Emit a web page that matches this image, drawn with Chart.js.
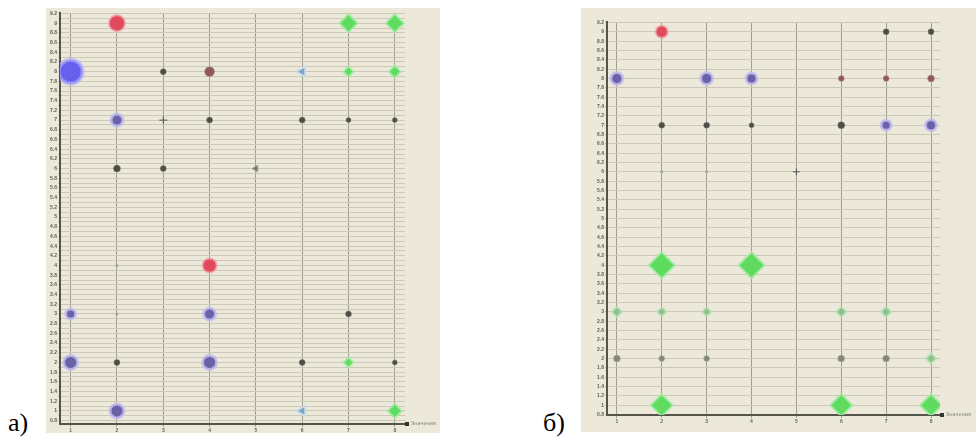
<!DOCTYPE html>
<html>
<head>
<meta charset="utf-8">
<script src="https://cdn.jsdelivr.net/npm/chart.js@4"></script>
<style>
body { margin: 0; background: #fff; width: 976px; height: 439px; position: relative; overflow: hidden; }
.panel { position: absolute; }
.tag { position: absolute; font-family: 'Liberation Serif', serif; font-size: 26px; color: #000; line-height: 1; }
</style>
</head>
<body>
<div class="panel" style="left:46px;top:8px"><canvas id="chartA" width="394" height="425"></canvas></div>
<div class="panel" style="left:581px;top:8px"><canvas id="chartB" width="395" height="424"></canvas></div>
<div class="tag" style="left:8px;top:410px">a)</div>
<div class="tag" style="left:543px;top:410px">б)</div>
<script>
// column labels (both charts)
const xLabels = ['1', '2', '3', '4', '5', '6', '7', '8'];
const axisNote = 'Значения';

// --- chart a) ---
const aPurpleX = [2, 1, 4, 1, 4, 2];
const aPurpleY = [7, 3, 3, 2, 2, 1];
const aPurpleR = [6, 5, 6, 7, 7, 7];

const aBlueX = [1];
const aBlueY = [8];
const aBlueR = [12];

const aDotX = [3, 4, 6, 7, 8, 2, 3, 7, 2, 6, 8];
const aDotY = [8, 7, 7, 7, 7, 6, 6, 3, 2, 2, 2];
const aDotR = [3, 3, 3, 2.5, 2.5, 3.5, 3, 3, 3, 3, 2.5];

const aFaintX = [2, 2];
const aFaintY = [4, 3];
const aFaintR = [1.5, 1.5];

const aRedX = [2, 4];
const aRedY = [9, 4];
const aRedR = [8, 7];

const aBrownX = [4];
const aBrownY = [8];
const aBrownR = [5];

const aGreenX = [7, 8, 7, 8, 7, 8];
const aGreenY = [9, 9, 8, 8, 2, 1];
const aGreenR = [9, 9, 5, 6, 5, 7];

const aTriX = [6, 6];
const aTriY = [8, 1];
const aTriR = [6, 6];

const aGrayTriX = [5];
const aGrayTriY = [6];
const aGrayTriR = [4];

const aCrossX = [3];
const aCrossY = [7];
const aCrossR = [4];

// --- chart б) ---
const bRedX = [2];
const bRedY = [9];
const bRedR = [6];

const bDotX = [7, 8, 2, 3, 4, 6];
const bDotY = [9, 9, 7, 7, 7, 7];
const bDotR = [3, 3, 3, 3, 2.5, 3.5];

const bBrownX = [6, 7, 8];
const bBrownY = [8, 8, 8];
const bBrownR = [3, 3, 3.5];

const bPurpleX = [1, 3, 4, 7, 8];
const bPurpleY = [8, 8, 8, 7, 7];
const bPurpleR = [6, 6, 5.5, 5, 5.5];

const bTinyX = [2, 3];
const bTinyY = [6, 6];
const bTinyR = [1.5, 1.5];

const bCrossX = [5];
const bCrossY = [6];
const bCrossR = [3.5];

const bBigGreenX = [2, 4, 2, 6, 8];
const bBigGreenY = [4, 4, 1, 1, 1];
const bBigGreenR = [13, 13, 11, 11, 11];

const bMidGreenX = [1, 2, 3, 6, 7, 8];
const bMidGreenY = [3, 3, 3, 3, 3, 2];
const bMidGreenR = [5, 4.5, 4.5, 5, 5, 5];

const bGrayX = [1, 2, 3, 6, 7];
const bGrayY = [2, 2, 2, 2, 2];
const bGrayR = [3.5, 3, 3, 3.5, 3.5];

function pts(xs, ys) {
  return xs.map((x, i) => ({ x: x, y: ys[i] }));
}

function series(xs, ys, rs, look) {
  return {
    data: pts(xs, ys),
    showLine: false,
    pointStyle: look.shape || 'circle',
    rotation: look.rot || 0,
    pointRadius: ctx => rs[ctx.dataIndex],
    backgroundColor: look.fill,
    borderColor: look.edge,
    borderWidth: look.bw == null ? 1 : look.bw
  };
}

const purple = { fill: '#6a62a6', edge: 'rgba(196,190,240,0.8)', bw: 3 };
const blue = { fill: '#6760ee', edge: 'rgba(175,170,250,0.65)', bw: 4 };
const dot = { fill: '#4e4c47', edge: 'rgba(130,128,118,0.45)', bw: 1 };
const faint = { fill: '#a8a598', edge: 'rgba(0,0,0,0)', bw: 0 };
const red = { fill: '#e14a5c', edge: 'rgba(242,160,170,0.7)', bw: 2 };
const brown = { fill: '#8e5a56', edge: 'rgba(200,160,160,0.5)', bw: 1 };
const green = { fill: '#5fdc5f', edge: 'rgba(160,235,160,0.8)', bw: 2, shape: 'rectRot' };
const greenMuted = { fill: '#8fc08c', edge: 'rgba(180,225,180,0.8)', bw: 2, shape: 'rectRot' };
const tri = { fill: '#7fa5c4', edge: 'rgba(205,225,240,0.85)', bw: 2, shape: 'triangle', rot: -90 };
const grayTri = { fill: '#7c7a72', edge: 'rgba(170,168,160,0.6)', bw: 1, shape: 'triangle', rot: -90 };
const cross = { fill: '#444', edge: '#555', bw: 1, shape: 'cross' };

const panelBg = {
  id: 'panelBg',
  beforeDraw(chart) {
    const c = chart.ctx;
    c.save();
    c.fillStyle = '#ece9da';
    c.fillRect(0, 0, chart.width, chart.height);
    c.restore();
  },
  afterDraw(chart) {
    const c = chart.ctx;
    const a = chart.chartArea;
    c.save();
    c.fillStyle = '#333';
    c.fillRect(a.right, a.bottom - 2, 4, 4);
    c.fillStyle = '#777';
    c.font = '5px "DejaVu Sans"';
    c.textBaseline = 'middle';
    c.fillText(axisNote, a.right + 6, a.bottom);
    c.restore();
  }
};

function yTicks(from, to, step) {
  const out = [];
  for (let v = from; v <= to + 1e-9; v += step) out.push({ value: Math.round(v * 10) / 10 });
  return out;
}

function yLabel(v) {
  return Math.abs(v - Math.round(v)) < 1e-6 ? String(Math.round(v)) : v.toFixed(1);
}

function makeChart(id, sets, cfg) {
  return new Chart(document.getElementById(id), {
    type: 'scatter',
    data: { datasets: sets },
    plugins: [panelBg],
    options: {
      responsive: false,
      animation: false,
      events: [],
      layout: { autoPadding: false, padding: { top: cfg.padTop, right: cfg.padRight, left: 0, bottom: 0 } },
      plugins: { legend: { display: false }, tooltip: { enabled: false } },
      scales: {
        x: {
          type: 'linear',
          min: cfg.xMin,
          max: cfg.xMax,
          afterBuildTicks: s => { s.ticks = xLabels.map((_, i) => ({ value: i + 1 })); },
          afterFit: s => { s.height = cfg.xH; },
          ticks: { callback: v => xLabels[v - 1], font: { size: 5, weight: 'bold' }, color: '#666', padding: 1, maxRotation: 0 },
          grid: { color: '#a09d90', lineWidth: 1, tickLength: 3 },
          border: { color: '#55544b', width: 2 }
        },
        y: {
          type: 'linear',
          min: cfg.yMin,
          max: cfg.yMax,
          afterBuildTicks: s => { s.ticks = yTicks(0.8, 9.2, cfg.yStep); },
          afterFit: s => { s.width = cfg.yW; },
          ticks: {
            autoSkip: false,
            callback: (v, i) => (cfg.yStep < 0.15 && i % 2 === 1) ? '' : yLabel(v),
            font: { size: 5, weight: 'bold' }, color: '#5e5d55', padding: 1
          },
          grid: { color: '#cdc9b9', lineWidth: 1, tickLength: 2 },
          border: { color: '#55544b', width: 2 }
        }
      }
    }
  });
}

makeChart('chartA', [
  series(aFaintX, aFaintY, aFaintR, faint),
  series(aDotX, aDotY, aDotR, dot),
  series(aCrossX, aCrossY, aCrossR, cross),
  series(aGrayTriX, aGrayTriY, aGrayTriR, grayTri),
  series(aBrownX, aBrownY, aBrownR, brown),
  series(aRedX, aRedY, aRedR, red),
  series(aPurpleX, aPurpleY, aPurpleR, purple),
  series(aBlueX, aBlueY, aBlueR, blue),
  series(aTriX, aTriY, aTriR, tri),
  series(aGreenX, aGreenY, aGreenR, green)
], { padTop: 5, padRight: 35, xMin: 0.77, xMax: 8.22, xH: 9, yMin: 0.73, yMax: 9.21, yStep: 0.1, yW: 14 });

makeChart('chartB', [
  series(bTinyX, bTinyY, bTinyR, faint),
  series(bCrossX, bCrossY, bCrossR, cross),
  series(bGrayX, bGrayY, bGrayR, { fill: '#85857a', edge: 'rgba(170,200,170,0.6)', bw: 1 }),
  series(bDotX, bDotY, bDotR, dot),
  series(bBrownX, bBrownY, bBrownR, brown),
  series(bRedX, bRedY, bRedR, red),
  series(bPurpleX, bPurpleY, bPurpleR, purple),
  series(bMidGreenX, bMidGreenY, bMidGreenR, greenMuted),
  series(bBigGreenX, bBigGreenY, bBigGreenR, green)
], { padTop: 14, padRight: 36, xMin: 0.78, xMax: 8.2, xH: 17, yMin: 0.79, yMax: 9.21, yStep: 0.2, yW: 26 });
</script>
</body>
</html>
